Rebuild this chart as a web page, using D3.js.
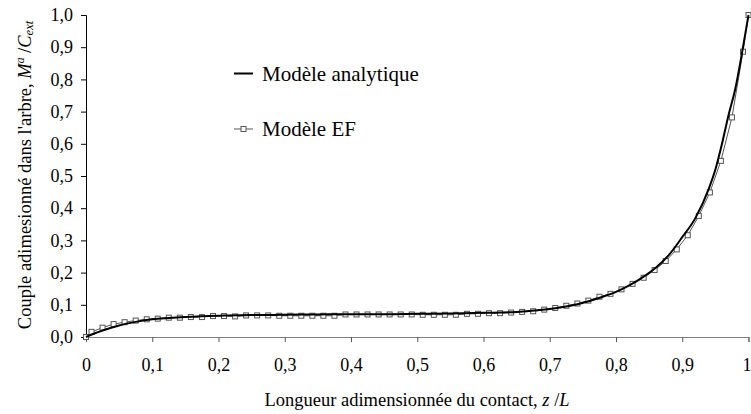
<!DOCTYPE html>
<html>
<head>
<meta charset="utf-8">
<script src="https://cdn.jsdelivr.net/npm/d3@7"></script>
<style>
  body { margin: 0; background: #fff; }
</style>
</head>
<body>
<script>
// tick values
const xTicks = [0, 0.1, 0.2, 0.3, 0.4, 0.5, 0.6, 0.7, 0.8, 0.9, 1];
const yTicks = [0, 0.1, 0.2, 0.3, 0.4, 0.5, 0.6, 0.7, 0.8, 0.9, 1];

// Modèle analytique
const anaX = [0, 0.025, 0.05, 0.075, 0.1, 0.125, 0.15, 0.2, 0.25, 0.3, 0.35, 0.4, 0.45, 0.5, 0.55, 0.6, 0.65, 0.7, 0.72, 0.74, 0.76, 0.78, 0.8, 0.82, 0.84, 0.86, 0.88, 0.9, 0.92, 0.94, 0.95, 0.96, 0.97, 0.98, 0.99, 1];
const anaY = [0, 0.02, 0.036, 0.047, 0.055, 0.059, 0.062, 0.066, 0.068, 0.069, 0.07, 0.071, 0.071, 0.072, 0.073, 0.075, 0.078, 0.087, 0.093, 0.101, 0.112, 0.125, 0.14, 0.16, 0.185, 0.215, 0.255, 0.31, 0.37, 0.46, 0.52, 0.6, 0.69, 0.77, 0.88, 1];

// Modèle EF
const efX = [0, 0.0083, 0.025, 0.0417, 0.0583, 0.075, 0.0917, 0.1083, 0.125, 0.1417, 0.1583, 0.175, 0.1917, 0.2083, 0.225, 0.2417, 0.2583, 0.275, 0.2917, 0.3083, 0.325, 0.3417, 0.3583, 0.375, 0.3917, 0.4083, 0.425, 0.4417, 0.4583, 0.475, 0.4917, 0.5083, 0.525, 0.5417, 0.5583, 0.575, 0.5917, 0.6083, 0.625, 0.6417, 0.6583, 0.675, 0.6917, 0.7083, 0.725, 0.7417, 0.7583, 0.775, 0.7917, 0.8083, 0.825, 0.8417, 0.8583, 0.875, 0.8917, 0.9083, 0.925, 0.9417, 0.9583, 0.975, 0.9917, 1];
const efY = [0, 0.016, 0.029, 0.04, 0.046, 0.051, 0.055, 0.057, 0.06, 0.06, 0.062, 0.062, 0.065, 0.065, 0.064, 0.067, 0.067, 0.067, 0.066, 0.066, 0.066, 0.066, 0.066, 0.066, 0.07, 0.07, 0.07, 0.07, 0.07, 0.07, 0.07, 0.069, 0.069, 0.069, 0.069, 0.072, 0.072, 0.074, 0.074, 0.076, 0.078, 0.08, 0.085, 0.09, 0.097, 0.104, 0.113, 0.125, 0.134, 0.148, 0.165, 0.184, 0.208, 0.236, 0.272, 0.316, 0.376, 0.449, 0.547, 0.682, 0.886, 1];

const width = 751, height = 414;
const plotLeft = 86, plotRight = 748.5, plotTop = 15, plotBottom = 337;
const serif = "Liberation Serif";

const svg = d3.select("body").append("svg")
    .attr("width", width)
    .attr("height", height);

const x = d3.scaleLinear().domain([0, 1]).range([plotLeft, plotRight]);
const y = d3.scaleLinear().domain([0, 1]).range([plotBottom, plotTop]);
const fmt = d => d3.format(".1f")(d).replace(".", ",");

// y axis
const yAxis = svg.append("g")
    .attr("transform", `translate(${plotLeft},0)`)
    .call(d3.axisLeft(y).tickValues(yTicks).tickFormat(fmt).tickSize(5).tickPadding(8));
yAxis.select(".domain").attr("stroke", "#000");
yAxis.selectAll("line").attr("stroke", "#000");
yAxis.selectAll("text").attr("font-family", serif).attr("font-size", 18).attr("fill", "#000");

// x axis
const xAxis = svg.append("g")
    .attr("transform", `translate(0,${plotBottom})`)
    .call(d3.axisBottom(x).tickValues(xTicks).tickFormat(d => d === 0 ? "0" : d === 1 ? "1" : fmt(d)).tickSize(5).tickPadding(16));
xAxis.select(".domain").attr("stroke", "#808080");
xAxis.selectAll("line").attr("stroke", "#555");
xAxis.selectAll("text").attr("font-family", serif).attr("font-size", 18).attr("fill", "#000");
// last label sits against the right edge
xAxis.selectAll(".tick").filter(d => d === 1).select("text").attr("x", -2);

// series
const efData = efX.map((v, i) => [v, efY[i]]);
const anaData = anaX.map((v, i) => [v, anaY[i]]);

const line = d3.line().x(d => x(d[0])).y(d => y(d[1]));
const curve = d3.line().x(d => x(d[0])).y(d => y(d[1])).curve(d3.curveMonotoneX);

svg.append("path")
    .datum(efData)
    .attr("d", line)
    .attr("fill", "none")
    .attr("stroke", "#555")
    .attr("stroke-width", 1);

svg.selectAll(".ef")
    .data(efData)
    .enter().append("rect")
    .attr("class", "ef")
    .attr("x", d => x(d[0]) - 2.5)
    .attr("y", d => y(d[1]) - 2.5)
    .attr("width", 5)
    .attr("height", 5)
    .attr("fill", "#fff")
    .attr("stroke", "#555")
    .attr("stroke-width", 1);

svg.append("path")
    .datum(anaData)
    .attr("d", curve)
    .attr("fill", "none")
    .attr("stroke", "#000")
    .attr("stroke-width", 2);

// legend
const leg = svg.append("g");
leg.append("line").attr("x1", 234).attr("x2", 253).attr("y1", 73.5).attr("y2", 73.5)
    .attr("stroke", "#000").attr("stroke-width", 2);
leg.append("text").attr("x", 262).attr("y", 80.5)
    .attr("font-family", serif).attr("font-size", 21).text("Modèle analytique");
leg.append("line").attr("x1", 234).attr("x2", 253).attr("y1", 129).attr("y2", 129)
    .attr("stroke", "#555").attr("stroke-width", 1);
leg.append("rect").attr("x", 241).attr("y", 126.5).attr("width", 5).attr("height", 5)
    .attr("fill", "#fff").attr("stroke", "#555");
leg.append("text").attr("x", 262).attr("y", 135.5)
    .attr("font-family", serif).attr("font-size", 21).text("Modèle EF");

// x title
const xt = svg.append("text")
    .attr("x", 417).attr("y", 406)
    .attr("text-anchor", "middle")
    .attr("font-family", serif)
    .attr("font-size", 18.5);
xt.append("tspan").text("Longueur adimensionnée du contact, ");
xt.append("tspan").attr("font-style", "italic").text("z");
xt.append("tspan").text(" /");
xt.append("tspan").attr("font-style", "italic").text("L");

// y title
const yt = svg.append("text")
    .attr("transform", "translate(31,175) rotate(-90)")
    .attr("text-anchor", "middle")
    .attr("font-family", serif)
    .attr("font-size", 18.5);
yt.append("tspan").text("Couple adimesionné dans l'arbre,  ");
yt.append("tspan").attr("font-style", "italic").text("M");
yt.append("tspan").attr("font-style", "italic").attr("font-size", 11.5).attr("dy", -7).text("a");
yt.append("tspan").attr("dy", 7).text(" /");
yt.append("tspan").attr("font-style", "italic").text("C");
yt.append("tspan").attr("font-style", "italic").attr("font-size", 12.5).attr("dy", 2).text("ext");
</script>
</body>
</html>
